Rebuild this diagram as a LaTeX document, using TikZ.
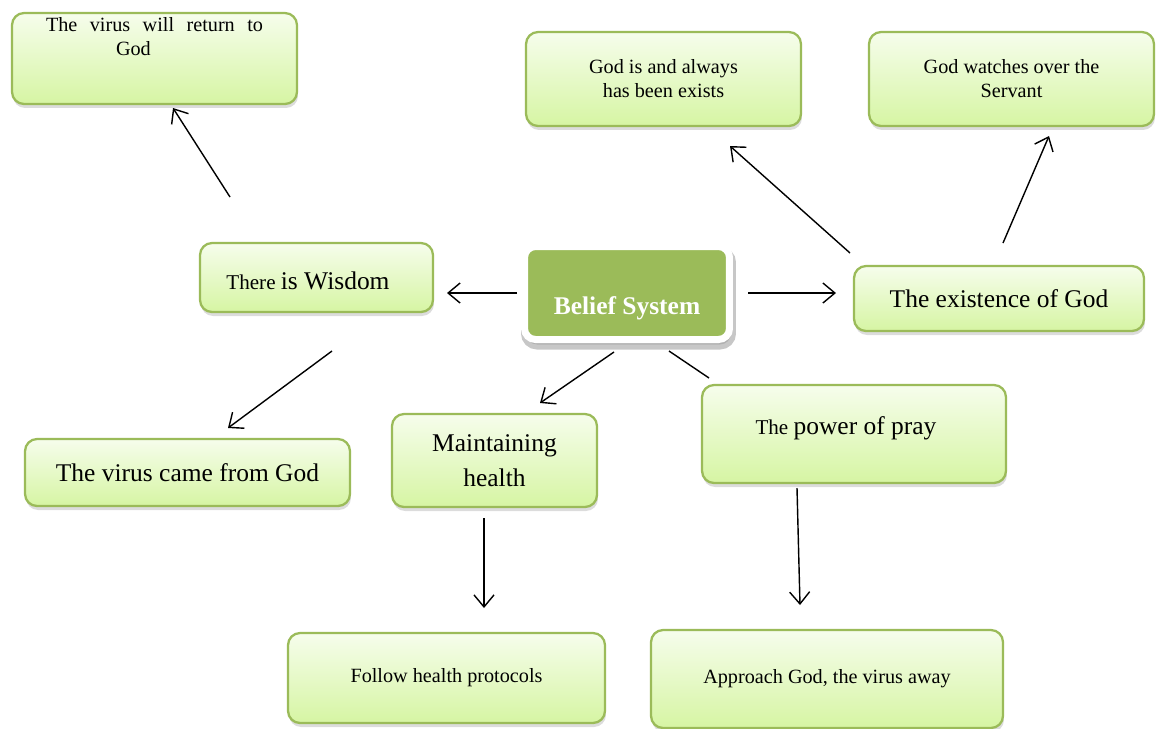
\documentclass[tikz,border=0pt]{standalone}
\usepackage{fontspec}
\setmainfont{Liberation Serif}
\usepackage{xcolor}
\usetikzlibrary{arrows.meta}
\usetikzlibrary{shadows}

\definecolor{boxline}{RGB}{155,187,89}
\definecolor{boxtop}{RGB}{246,253,236}
\definecolor{boxbottom}{RGB}{214,245,163}
\definecolor{corefill}{RGB}{155,187,89}

\newcommand{\bigtxt}{\fontsize{14.5}{17}\selectfont}
\newcommand{\smalltxt}{\fontsize{11.5}{13.6}\selectfont}

\begin{document}
\begin{tikzpicture}[x=0.02cm,y=-0.02cm,
                    >={Straight Barb[length=0.24cm,width=0.40cm]},line width=0.8pt,
                    idea node/.style={rectangle,rounded corners=0.24cm,draw=boxline,line width=1.3pt,
                      top color=boxtop,bottom color=boxbottom,align=center,inner sep=0pt,
                      drop shadow={opacity=0.28,shadow xshift=0.02cm,shadow yshift=-0.08cm}},
                    core node/.style={rectangle,rounded corners=0.22cm,draw=white,line width=0.14cm,
                      fill=corefill,text=white,font=\bigtxt\bfseries,inner sep=0pt,
                      drop shadow={opacity=0.22,shadow xshift=0.03cm,shadow yshift=-0.1cm,
                        line width=0.2cm,draw=black,rounded corners=0.26cm}}]
\useasboundingbox (0,0) rectangle (1156,728);

\node[core node,minimum width=4.1cm,minimum height=1.86cm] (belief) at (627,293)
  [label={[text=white,font=\bigtxt\bfseries,yshift=-0.3cm]center:Belief System}] {};

\node[idea node,minimum width=5.7cm,minimum height=1.82cm] (ret) at (154.5,58.5)
  [label={[font=\smalltxt,align=left,yshift=0.43cm]center:{\makebox[4.34cm][s]{The virus will return to}\\\hspace*{1.4cm}God\hspace*{2.2cm}}}] {};
\node[idea node,minimum width=5.5cm,minimum height=1.88cm,font=\smalltxt] (exists) at (663.5,79)
  {God is and always\\has been exists};
\node[idea node,minimum width=5.7cm,minimum height=1.88cm,font=\smalltxt] (watch) at (1011.5,79)
  {God watches over the\\Servant};
\node[idea node,minimum width=4.66cm,minimum height=1.38cm] (wisdom) at (316.5,277.5)
  [label={[xshift=-0.17cm,yshift=-0.07cm]center:{\fontsize{12}{14}\selectfont There \bigtxt is Wisdom}}] {};
\node[idea node,minimum width=5.8cm,minimum height=1.3cm,font=\bigtxt] (exist) at (999,298.5)
  {The existence of God};
\node[idea node,minimum width=6.5cm,minimum height=1.34cm,font=\bigtxt] (came) at (187.5,472.5)
  {The virus came from God};
\node[idea node,minimum width=4.1cm,minimum height=1.86cm,font=\fontsize{14.5}{19.8}\selectfont] (maint) at (494.5,460.5)
  {Maintaining\\health};
\node[idea node,minimum width=6.08cm,minimum height=1.96cm] (power) at (854,434)
  [label={[xshift=-0.16cm,yshift=0.12cm]center:{\fontsize{12}{14}\selectfont The \bigtxt power of pray}}] {};
\node[idea node,minimum width=6.34cm,minimum height=1.8cm,font=\smalltxt] (follow) at (446.5,678)
  {Follow health protocols};
\node[idea node,minimum width=7.04cm,minimum height=1.96cm,font=\smalltxt] (approach) at (827,679)
  {Approach God, the virus away};

% free ends of the connectors
\coordinate (wisdom-up) at (230,197);   \coordinate (ret-in) at (173,108);
\coordinate (belief-w) at (517,293);    \coordinate (wisdom-in) at (447,293);
\coordinate (belief-e) at (748,293);    \coordinate (exist-in) at (836,293);
\coordinate (exist-nw) at (850,253);    \coordinate (exists-in) at (730,146);
\coordinate (exist-n) at (1003,243);    \coordinate (watch-in) at (1049,136);
\coordinate (wisdom-down) at (332,351); \coordinate (came-in) at (228,428);
\coordinate (belief-sw) at (614,352);   \coordinate (maint-in) at (540,403);
\coordinate (belief-se) at (669,351);   \coordinate (power-in) at (709,378);
\coordinate (maint-down) at (484,518);  \coordinate (follow-in) at (484,608);
\coordinate (power-down) at (797,488);  \coordinate (approach-in) at (800,605);

\path[->]
  (wisdom-up) edge (ret-in)
  (belief-w) edge (wisdom-in)
  (belief-e) edge (exist-in)
  (exist-nw) edge (exists-in)
  (exist-n) edge (watch-in)
  (wisdom-down) edge (came-in)
  (belief-sw) edge (maint-in)
  (maint-down) edge (follow-in)
  (power-down) edge (approach-in);
\draw (belief-se) -- (power-in);

\end{tikzpicture}
\end{document}
